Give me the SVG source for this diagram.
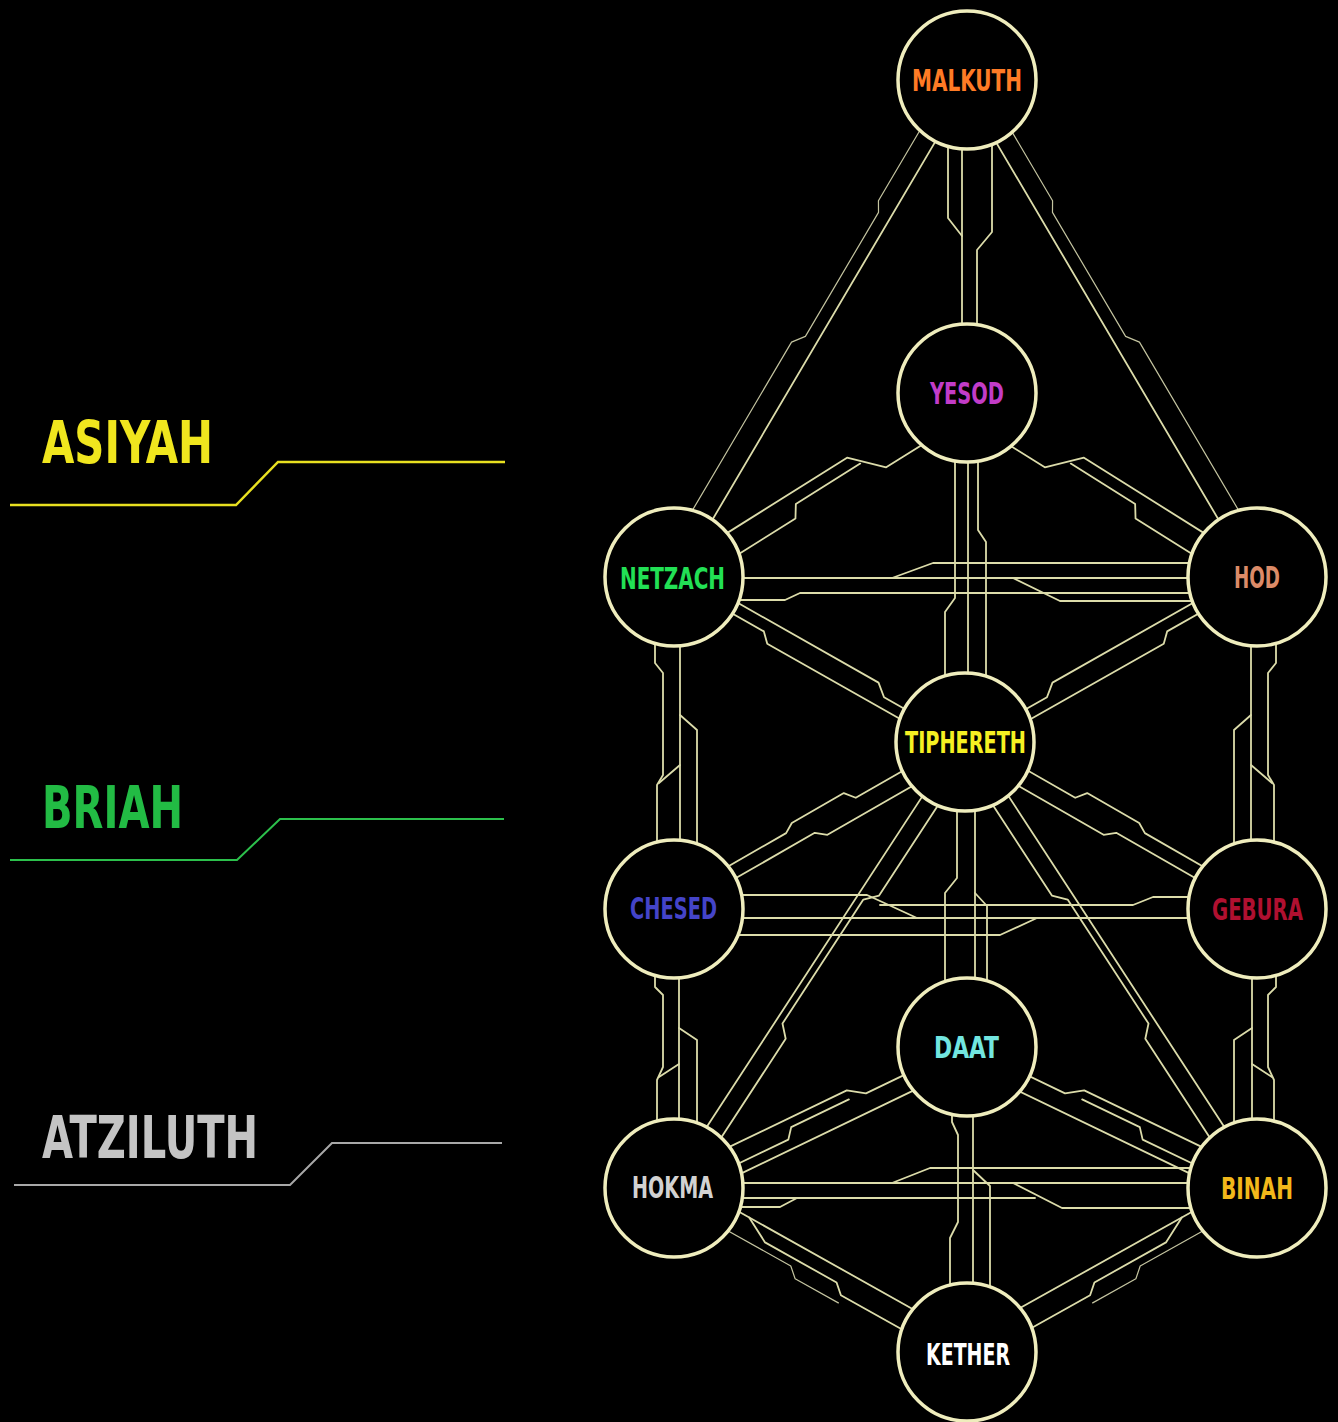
<svg xmlns="http://www.w3.org/2000/svg" width="1338" height="1422" viewBox="0 0 1338 1422">
<style>
.c{fill:none;stroke:#dcdcaa;stroke-width:1.8;stroke-linejoin:round;stroke-linecap:round}
.t{fill:none;stroke:#c4c4a0;stroke-width:1.2;stroke-linejoin:round}
.n circle{fill:#000;stroke:#efedbd;stroke-width:3.5}
.nl{font-family:"Liberation Sans Narrow","DejaVu Sans Condensed","Liberation Sans",sans-serif;font-weight:bold;font-size:30px;text-anchor:middle}
.w{font-family:"DejaVu Sans Condensed","Liberation Sans Narrow","Liberation Sans",sans-serif;font-weight:bold;font-size:58px}
</style>
<rect width="1338" height="1422" fill="#000"/>

<g id="worlds">
 <g id="asiyah">
  <text class="w" x="42" y="463" fill="#f0e61e" textLength="171" lengthAdjust="spacingAndGlyphs">ASIYAH</text>
  <polyline points="10,505 236,505 278,462 505,462" fill="none" stroke="#e8e020" stroke-width="2.5"/>
 </g>
 <g id="briah">
  <text class="w" x="42" y="828" fill="#22bb44" textLength="141" lengthAdjust="spacingAndGlyphs">BRIAH</text>
  <polyline points="10,860 237,860 280,819 504,819" fill="none" stroke="#2cc04c" stroke-width="2"/>
 </g>
 <g id="atziluth">
  <text class="w" x="42" y="1158" fill="#c4c4c4" textLength="216" lengthAdjust="spacingAndGlyphs">ATZILUTH</text>
  <polyline points="14,1185 290,1185 332,1143 502,1143" fill="none" stroke="#a8a8a8" stroke-width="2"/>
 </g>
</g>

<g id="connectors">
 <g id="center-conn">
  <!-- Malkuth - Yesod -->
  <path class="c" d="M948 140 V218 L962 236 V330"/>
  <path class="c" d="M962 140 V236"/>
  <path class="c" d="M992 140 V232 L977 250 V330"/>
  <!-- Yesod - Tiphereth -->
  <path class="c" d="M955 455 V598 L945 612 V680"/>
  <path class="c" d="M968 455 V680"/>
  <path class="c" d="M978 455 V530 L986 542 V680"/>
  <!-- Tiphereth - Daat -->
  <path class="c" d="M957 805 V878 L945 893 V985"/>
  <path class="c" d="M975 805 V985"/>
  <path class="c" d="M975 893 L987 906 V985"/>
  <!-- Daat - Kether -->
  <path class="c" d="M952 1110 V1122 L958 1135 V1222 L950 1238 V1290"/>
  <path class="c" d="M973 1110 V1290"/>
  <path class="c" d="M973 1170 L990 1186 V1290"/>
  <!-- Netzach - Hod -->
  <path class="c" d="M735 578 H1195"/>
  <path class="c" d="M735 600 H785 L800 593 H1195"/>
  <path class="c" d="M1013 578 L1060 601 H1195"/>
  <path class="c" d="M892 578 L933 563 H1195"/>
  <!-- Chesed - Gebura -->
  <path class="c" d="M735 895 H867 L917 918"/>
  <path class="c" d="M735 918 H1195"/>
  <path class="c" d="M735 935 H1000 L1037 918"/>
  <path class="c" d="M880 905 H1133 L1153 897 H1195"/>
  <!-- Hokma - Binah -->
  <path class="c" d="M735 1183 H1195"/>
  <path class="c" d="M892 1183 L930 1168 H1195"/>
  <path class="c" d="M735 1198 H1035"/>
  <path class="c" d="M735 1207 H780 L797 1198"/>
  <path class="c" d="M1013 1183 L1062 1208 H1195"/>
 </g>
 <g id="left-conn">
  <!-- Netzach - Chesed -->
  <path class="c" d="M655 640 V663 L663 673 V775 L657 785 V845"/>
  <path class="c" d="M659 783 L680 765"/>
  <path class="c" d="M680 640 V845"/>
  <path class="c" d="M680 715 L697 730 V845"/>
  <!-- Chesed - Hokma -->
  <path class="c" d="M655 975 V987 L663 995 V1067 L657 1080 V1125"/>
  <path class="c" d="M659 1077 L679 1064"/>
  <path class="c" d="M679 975 V1125"/>
  <path class="c" d="M679 1028 L697 1040 V1125"/>
  <!-- Netzach - Malkuth -->
  <g transform="translate(674 577) rotate(-59.48)">
   <path class="c" d="M55 4 H522"/>
   <path class="t" d="M55 -18 H262 L274 -9 H418 L428 -15 H522"/>
  </g>
  <!-- Netzach - Yesod -->
  <g transform="translate(674 577) rotate(-32.13)">
   <path class="c" d="M55 -9 H210 L238 20 H291"/>
   <path class="c" d="M55 15 H134 L142 3 H218"/>
  </g>
  <!-- Netzach - Tiphereth -->
  <g transform="translate(674 577) rotate(29.55)">
   <path class="c" d="M55 -9 H230 L242 1 H280"/>
   <path class="c" d="M55 3 H105 L114 12 H280"/>
  </g>
  <!-- Chesed - Tiphereth -->
  <g transform="translate(674 909) rotate(-29.85)">
   <path class="c" d="M55 -10 H135 L145 -16 H205 L213 -6 H281"/>
   <path class="c" d="M55 4 H160 L170 12 H281"/>
  </g>
  <!-- Hokma - Tiphereth -->
  <g transform="translate(674 1188) rotate(-56.88)">
   <path class="c" d="M55 -6 H478"/>
   <path class="c" d="M55 12 H186 L197 1 H345 L357 12 H478"/>
  </g>
  <!-- Hokma - Daat -->
  <g transform="translate(674 1188) rotate(-25.70)">
   <path class="c" d="M55 -13 H198 L214 -2 H271"/>
   <path class="c" d="M55 6 H124 L132 -4 H196"/>
   <path class="c" d="M55 16 H271"/>
  </g>
  <!-- Hokma - Kether -->
  <g transform="translate(674 1188) rotate(29.24)">
   <path class="c" d="M55 -11 H281"/>
   <path class="c" d="M80 -11 L106 3 H188 L198 12 H281"/>
   <path class="t" d="M55 11 H140 L150 20 H200"/>
  </g>
 </g>
 <use href="#left-conn" transform="matrix(-1 0 0 1 1931 0)"/>
</g>

<g id="nodes" class="n">
 <g id="malkuth"><circle cx="967" cy="80" r="69"/><text class="nl" x="967" y="91" fill="#ff7b25" textLength="110" lengthAdjust="spacingAndGlyphs">MALKUTH</text></g>
 <g id="yesod"><circle cx="967" cy="393" r="69"/><text class="nl" x="967" y="404" fill="#c23cc8" textLength="74" lengthAdjust="spacingAndGlyphs">YESOD</text></g>
 <g id="netzach"><circle cx="674" cy="577" r="69"/><text class="nl" x="672.5" y="589" fill="#22e055" textLength="105" lengthAdjust="spacingAndGlyphs">NETZACH</text></g>
 <g id="hod"><circle cx="1257" cy="577" r="69"/><text class="nl" x="1257" y="588" fill="#dc8b68" textLength="46" lengthAdjust="spacingAndGlyphs">HOD</text></g>
 <g id="tiphereth"><circle cx="965" cy="742" r="69"/><text class="nl" x="965.5" y="753" fill="#f5f022" textLength="121" lengthAdjust="spacingAndGlyphs">TIPHERETH</text></g>
 <g id="chesed"><circle cx="674" cy="909" r="69"/><text class="nl" x="673.5" y="919" fill="#4444c8" textLength="87" lengthAdjust="spacingAndGlyphs">CHESED</text></g>
 <g id="gebura"><circle cx="1257" cy="909" r="69"/><text class="nl" x="1257.5" y="920" fill="#b01030" textLength="91" lengthAdjust="spacingAndGlyphs">GEBURA</text></g>
 <g id="daat"><circle cx="967" cy="1047" r="69"/><text class="nl" x="966.5" y="1058" fill="#72e6e0" textLength="65" lengthAdjust="spacingAndGlyphs">DAAT</text></g>
 <g id="hokma"><circle cx="674" cy="1188" r="69"/><text class="nl" x="672.5" y="1198" fill="#d2d2d2" textLength="81" lengthAdjust="spacingAndGlyphs">HOKMA</text></g>
 <g id="binah"><circle cx="1257" cy="1188" r="69"/><text class="nl" x="1257" y="1199" fill="#f2b81a" textLength="72" lengthAdjust="spacingAndGlyphs">BINAH</text></g>
 <g id="kether"><circle cx="967" cy="1352" r="69"/><text class="nl" x="968" y="1365" fill="#ffffff" textLength="84" lengthAdjust="spacingAndGlyphs">KETHER</text></g>
</g>
</svg>
